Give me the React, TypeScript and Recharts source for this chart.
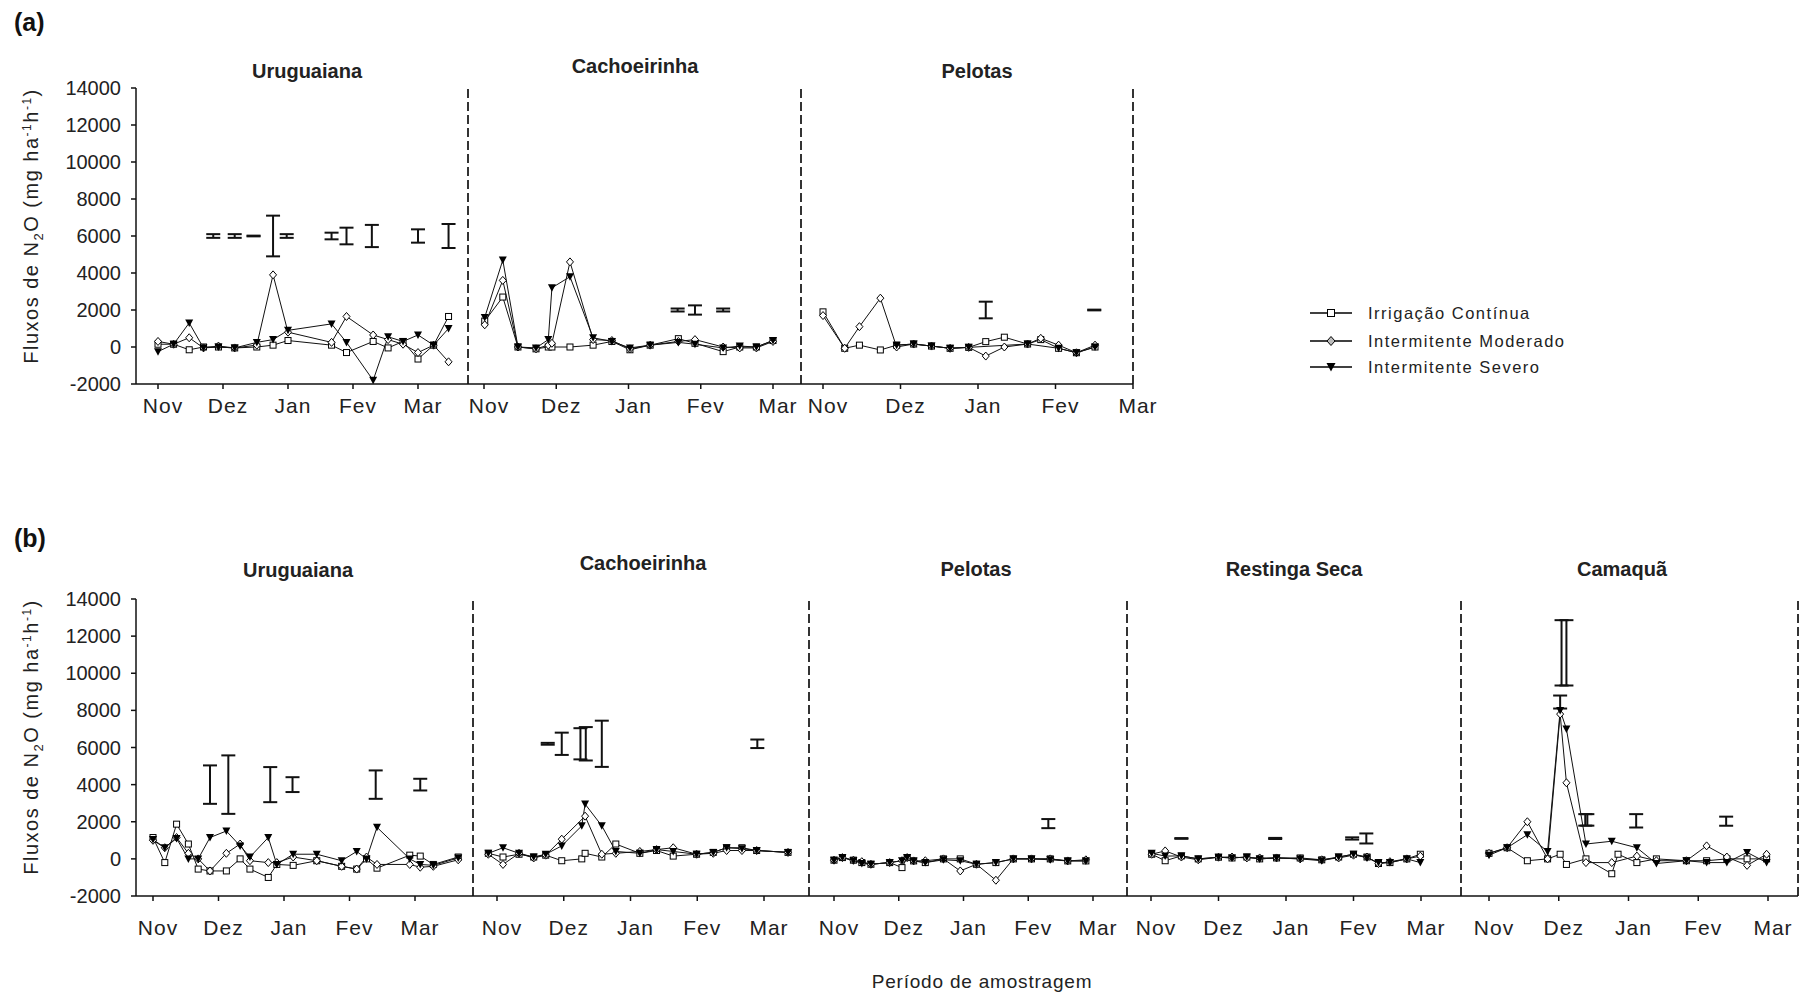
import React from "react";
import { ComposedChart, Line, Scatter, ErrorBar, XAxis, YAxis, ReferenceLine } from "recharts";

const FONT = '"Liberation Sans", Arial, sans-serif';

const monthLabels = ["Nov", "Dez", "Jan", "Fev", "Mar"];
const yTicks = [-2000, 0, 2000, 4000, 6000, 8000, 10000, 12000, 14000];
const seriesNames = ["Irrigação  Contínua", "Intermitente Moderado", "Intermitente Severo"];

// x values are in months from November (0 = Nov, 1 = Dez, ... 4 = Mar)

// (a) Uruguaiana
const aUruX = [0, 0.24, 0.48, 0.7, 0.93, 1.18, 1.52, 1.77, 2.0, 2.67, 2.9, 3.31, 3.54, 3.77, 4.0, 4.24, 4.47];
const aUruIC = [150, 150, -150, 0, 0, -50, 0, 100, 350, 100, -300, 300, -50, 300, -650, 100, 1650];
const aUruMod = [300, 150, 500, -50, 50, -50, 100, 3900, 800, 250, 1650, 650, 400, 150, -300, 100, -800];
const aUruSev = [-250, 150, 1300, -50, 0, -50, 250, 400, 900, 1250, 250, -1800, 550, 300, 650, 100, 1000];
const aUruBarX = [0.85, 1.18, 1.47, 1.77, 1.98, 2.67, 2.9, 3.29, 4.0, 4.47];
const aUruBarY = [6000, 6000, 6000, 6000, 6000, 6000, 6000, 6000, 6000, 6000];
const aUruBarErr = [100, 100, 20, 1100, 100, 180, 450, 600, 360, 650];

// (a) Cachoeirinha
const aCacX = [0.01, 0.26, 0.47, 0.72, 0.89, 0.94, 1.19, 1.51, 1.77, 2.02, 2.3, 2.69, 2.92, 3.31, 3.54, 3.77, 4.0];
const aCacIC = [1400, 2700, 0, -100, 0, 0, 0, 100, 300, -150, 100, 450, 200, -250, 0, 0, 350];
const aCacMod = [1200, 3600, 0, -100, 100, 200, 4600, 400, 350, -100, 100, 300, 400, 0, -50, -50, 300];
const aCacSev = [1600, 4700, 0, -50, 400, 3200, 3800, 500, 300, -50, 100, 250, 150, -50, 50, 0, 350];
const aCacBarX = [2.68, 2.92, 3.31];
const aCacBarY = [2000, 2000, 2000];
const aCacBarErr = [80, 250, 80];

// (a) Pelotas
const aPelX = [0, 0.28, 0.47, 0.74, 0.95, 1.17, 1.4, 1.64, 1.88, 2.1, 2.34, 2.64, 2.81, 3.04, 3.27, 3.51];
const aPelIC = [1900, -70, 100, -160, 100, 160, 50, -70, -20, 290, 530, 160, 400, -70, -310, 0];
const aPelMod = [1700, -70, 1100, 2640, 0, 160, 50, -70, -20, -490, 0, 160, 470, 100, -310, 100];
const aPelSev = [null, null, null, null, 100, 160, 50, -70, -20, null, null, 160, null, -70, -310, 0];
const aPelBarX = [2.1, 3.5];
const aPelBarY = [2000, 2000];
const aPelBarErr = [450, 20];

// (b) Uruguaiana
const bUruX = [0, 0.18, 0.36, 0.54, 0.69, 0.87, 1.12, 1.33, 1.48, 1.76, 1.89, 2.14, 2.5, 2.88, 3.11, 3.26, 3.42, 3.92, 4.08, 4.28, 4.66];
const bUruIC = [1150, -200, 1870, 800, -550, -650, -650, 0, -550, -1000, -300, -350, -100, -400, -550, 0, -500, 200, 150, -300, 100];
const bUruMod = [1000, 600, 1150, 300, 0, -650, 300, 800, -100, -200, -200, 100, -100, -400, -550, 100, -300, -300, -450, -400, -50];
const bUruSev = [1050, 600, 1100, 0, 0, 1150, 1500, 700, 100, 1150, -300, 250, 250, -100, 400, 0, 1700, 0, -300, -350, 50];
const bUruBarX = [0.87, 1.15, 1.79, 2.13, 3.4, 4.08];
const bUruBarY = [4000, 4000, 4000, 4000, 4000, 4000];
const bUruBarErr = [1035, 1575, 945, 400, 765, 315];

// (b) Cachoeirinha
const bCacX = [-0.13, 0.09, 0.33, 0.55, 0.73, 0.97, 1.27, 1.32, 1.57, 1.78, 2.14, 2.39, 2.64, 2.99, 3.24, 3.44, 3.67, 3.89, 4.36];
const bCacIC = [300, 100, 250, 100, 200, -100, 0, 300, 100, 800, 300, 450, 150, 250, 350, 600, 600, 450, 350];
const bCacMod = [250, -300, 300, 50, 200, 1060, null, 2300, 250, 300, 400, 500, 600, 250, 300, 450, 450, 450, 350];
const bCacSev = [300, 600, 300, 100, 250, 700, 1780, 2950, 1780, 400, 300, 500, 400, 250, 350, 600, 550, 450, 350];
const bCacBarX = [0.76, 0.97, 1.25, 1.33, 1.57, 3.9];
const bCacBarY = [6200, 6200, 6200, 6200, 6200, 6200];
const bCacBarErr = [50, 600, 840, 900, 1245, 230];

// (b) Pelotas
const bPelX = [0, 0.13, 0.3, 0.43, 0.57, 0.86, 1.05, 1.13, 1.23, 1.41, 1.69, 1.95, 2.2, 2.5, 2.77, 3.05, 3.34, 3.61, 3.89];
const bPelIC = [-70, 70, -70, -200, -290, -200, -470, 70, -110, -200, 0, 0, -290, -200, 0, 0, 0, -110, -110];
const bPelMod = [-70, 70, -70, -150, -290, -200, -100, 70, -110, -100, 0, -650, -290, -1150, 0, 0, 0, -110, -50];
const bPelSev = [-70, 70, -100, -250, -290, -200, -100, 70, -110, -200, -50, -100, -290, -200, 0, 0, -50, -110, -110];
const bPelBarX = [3.31];
const bPelBarY = [1900];
const bPelBarErr = [245];

// (b) Restinga Seca
const bResX = [0.01, 0.21, 0.45, 0.7, 1.0, 1.2, 1.42, 1.61, 1.86, 2.21, 2.53, 2.78, 3.0, 3.2, 3.37, 3.54, 3.79, 3.99];
const bResIC = [250, -100, 160, 0, 90, 50, 100, 0, 50, 50, -50, 100, 250, 100, -250, -200, 0, 250];
const bResMod = [250, 430, 100, -50, 90, 100, 50, 50, 50, 0, -50, 50, 200, 100, -250, -150, 0, 150];
const bResSev = [300, 150, 160, 0, 90, 50, 100, 0, 50, 0, -100, 100, 250, 50, -200, -200, 0, -200];
const bResBarX = [0.45, 1.84, 2.98, 3.19];
const bResBarY = [1100, 1100, 1100, 1100];
const bResBarErr = [20, 30, 60, 270];

// (b) Camaquã
const bCamX = [0, 0.26, 0.55, 0.84, 1.02, 1.11, 1.39, 1.76, 1.85, 2.12, 2.4, 2.83, 3.12, 3.41, 3.7, 3.98];
const bCamIC = [300, 600, -100, 0, 250, -300, 0, -800, 250, -200, 0, -100, -100, 0, 0, 0];
const bCamMod = [300, 600, 2000, 0, 7800, 4100, -200, -200, null, 150, -100, -100, 700, 100, -350, 250];
const bCamSev = [200, 600, 1300, 400, 8000, 7000, 800, 950, null, 600, -250, -100, -200, -200, 350, -200];
const bCamBarX = [1.02, 1.04, 1.11, 1.38, 1.41, 2.11, 3.4];
const bCamBarY = [8450, 11100, 11100, 2100, 2100, 2050, 2030];
const bCamBarErr = [350, 1760, 1760, 310, 310, 360, 245];

type Vals = (number | null)[];
interface PanelDef {
  title: string;
  x: number[];
  ic: Vals;
  mod: Vals;
  sev: Vals;
  barX: number[];
  barY: number[];
  barErr: number[];
  row: number;
  left: number;
  right: number;
  nov: number;
  mar: number;
  titleX: number;
  titleY: number;
}

// pixel layout of the two rows
const rows = [
  { top: 88, bottom: 384, tickGap: 9 },
  { top: 599, bottom: 896, tickGap: 19 },
];

const panels: PanelDef[] = [
  { title: "Uruguaiana", x: aUruX, ic: aUruIC, mod: aUruMod, sev: aUruSev, barX: aUruBarX, barY: aUruBarY, barErr: aUruBarErr, row: 0, left: 136, right: 468, nov: 158, mar: 418, titleX: 307, titleY: 71 },
  { title: "Cachoeirinha", x: aCacX, ic: aCacIC, mod: aCacMod, sev: aCacSev, barX: aCacBarX, barY: aCacBarY, barErr: aCacBarErr, row: 0, left: 468, right: 801, nov: 484, mar: 773, titleX: 635, titleY: 66 },
  { title: "Pelotas", x: aPelX, ic: aPelIC, mod: aPelMod, sev: aPelSev, barX: aPelBarX, barY: aPelBarY, barErr: aPelBarErr, row: 0, left: 801, right: 1133, nov: 823, mar: 1133, titleX: 977, titleY: 71 },
  { title: "Uruguaiana", x: bUruX, ic: bUruIC, mod: bUruMod, sev: bUruSev, barX: bUruBarX, barY: bUruBarY, barErr: bUruBarErr, row: 1, left: 136, right: 473, nov: 153, mar: 415, titleX: 298, titleY: 570 },
  { title: "Cachoeirinha", x: bCacX, ic: bCacIC, mod: bCacMod, sev: bCacSev, barX: bCacBarX, barY: bCacBarY, barErr: bCacBarErr, row: 1, left: 473, right: 809, nov: 497, mar: 764, titleX: 643, titleY: 563 },
  { title: "Pelotas", x: bPelX, ic: bPelIC, mod: bPelMod, sev: bPelSev, barX: bPelBarX, barY: bPelBarY, barErr: bPelBarErr, row: 1, left: 809, right: 1127, nov: 834, mar: 1093, titleX: 976, titleY: 569 },
  { title: "Restinga Seca", x: bResX, ic: bResIC, mod: bResMod, sev: bResSev, barX: bResBarX, barY: bResBarY, barErr: bResBarErr, row: 1, left: 1127, right: 1461, nov: 1151, mar: 1421, titleX: 1294, titleY: 569 },
  { title: "Camaquã", x: bCamX, ic: bCamIC, mod: bCamMod, sev: bCamSev, barX: bCamBarX, barY: bCamBarY, barErr: bCamBarErr, row: 1, left: 1461, right: 1798, nov: 1489, mar: 1768, titleX: 1622, titleY: 569 },
];

const squareDot = (props: any) => {
  const { cx, cy, index } = props;
  if (cx == null || cy == null) return <g key={`sq${index}`} />;
  return <rect key={`sq${index}`} x={cx - 3} y={cy - 3} width={6} height={6} fill="#fff" stroke="#000" strokeWidth={1} />;
};

const diamondDot = (props: any) => {
  const { cx, cy, index } = props;
  if (cx == null || cy == null) return <g key={`dm${index}`} />;
  return (
    <polygon
      key={`dm${index}`}
      points={`${cx},${cy - 4} ${cx + 3.5},${cy} ${cx},${cy + 4} ${cx - 3.5},${cy}`}
      fill="#fff"
      stroke="#000"
      strokeWidth={1}
    />
  );
};

const triDot = (props: any) => {
  const { cx, cy, index } = props;
  if (cx == null || cy == null) return <g key={`tr${index}`} />;
  return <polygon key={`tr${index}`} points={`${cx - 4},${cy - 3.5} ${cx + 4},${cy - 3.5} ${cx},${cy + 4}`} fill="#000" />;
};

const XTick = (props: any) => {
  const { x, y, payload } = props;
  return (
    <text x={x + 5} y={y} dy={15} textAnchor="middle" fontSize={21} fill="#222" fontFamily={FONT} letterSpacing={1}>
      {monthLabels[payload.value]}
    </text>
  );
};

function Panel({ p }: { p: PanelDef }) {
  const r = rows[p.row];
  const first = p.left === 136;
  const yw = first ? 80 : 0;
  const mt = 12;
  const xh = 50;
  const mr = 30;
  const unit = (p.mar - p.nov) / 4;
  const lo = (p.left - p.nov) / unit;
  const hi = (p.right - p.nov) / unit;
  const w = p.right - p.left + yw + mr;
  const h = mt + (r.bottom - r.top) + xh;
  const pts = (vals: Vals) =>
    p.x.map((x, i) => ({ x, y: vals[i] })).filter((d) => d.y !== null);
  const bars = p.barX.map((x, i) => ({ x, y: p.barY[i], e: p.barErr[i] }));

  return (
    <div style={{ position: "absolute", left: p.left - yw, top: r.top - mt }}>
      <ComposedChart width={w} height={h} margin={{ top: mt, right: mr, bottom: 0, left: 0 }}>
        <XAxis
          type="number"
          dataKey="x"
          domain={[lo, hi]}
          ticks={[0, 1, 2, 3, 4]}
          allowDataOverflow
          height={xh}
          stroke="#111"
          strokeWidth={1.5}
          tickSize={5}
          tickMargin={r.tickGap}
          tick={<XTick />}
        />
        <YAxis
          type="number"
          domain={[-2000, 14000]}
          ticks={yTicks}
          allowDataOverflow
          hide={!first}
          width={yw}
          stroke="#111"
          strokeWidth={1.5}
          tickSize={5}
          tickMargin={10}
          tick={{ fill: "#222", fontSize: 20, fontFamily: FONT }}
        />
        <ReferenceLine x={hi} stroke="#333" strokeWidth={2} strokeDasharray="9 4" />
        <Line data={pts(p.ic)} dataKey="y" type="linear" stroke="#111" strokeWidth={1} dot={squareDot} isAnimationActive={false} />
        <Line data={pts(p.mod)} dataKey="y" type="linear" stroke="#111" strokeWidth={1} dot={diamondDot} isAnimationActive={false} />
        <Line data={pts(p.sev)} dataKey="y" type="linear" stroke="#111" strokeWidth={1} dot={triDot} isAnimationActive={false} />
        <Scatter data={bars} dataKey="y" shape={() => <g />} isAnimationActive={false}>
          <ErrorBar dataKey="e" direction="y" width={7} stroke="#111" strokeWidth={2} />
        </Scatter>
      </ComposedChart>
    </div>
  );
}

function Legend() {
  const ys = [313, 341, 367];
  const marks = [
    <rect x={-3.5} y={-3.5} width={7} height={7} fill="#fff" stroke="#000" strokeWidth={1} />,
    <polygon points="0,-4.5 4,0 0,4.5 -4,0" fill="#bbb" stroke="#000" strokeWidth={1} />,
    <polygon points="-4.5,-4 4.5,-4 0,4.5" fill="#000" />,
  ];
  return (
    <svg style={{ position: "absolute", left: 0, top: 0 }} width={1805} height={997}>
      {seriesNames.map((name, i) => (
        <g key={name}>
          <line x1={1310} x2={1352} y1={ys[i]} y2={ys[i]} stroke="#000" strokeWidth={1.5} />
          <g transform={`translate(1331,${ys[i]})`}>{marks[i]}</g>
          <text x={1368} y={ys[i]} dy={5.5} fontSize={16.5} letterSpacing={1.5} fill="#222" fontFamily={FONT}>
            {name}
          </text>
        </g>
      ))}
    </svg>
  );
}

function YLabel({ cy }: { cy: number }) {
  return (
    <div
      style={{
        position: "absolute",
        left: 33,
        top: cy,
        transform: "translate(-50%, -50%) rotate(-90deg)",
        whiteSpace: "nowrap",
        fontSize: 20,
        letterSpacing: 1.5,
        color: "#222",
        fontFamily: FONT,
        lineHeight: "22px",
      }}
    >
      Fluxos de N<sub style={{ fontSize: 13 }}>2</sub>O (mg ha<sup style={{ fontSize: 12 }}>-1</sup>h<sup style={{ fontSize: 12 }}>-1</sup>)
    </div>
  );
}

export default function App() {
  return (
    <div style={{ position: "absolute", left: 0, top: 0, width: 1805, height: 997, background: "#fff", fontFamily: FONT }}>
      {panels.map((p, i) => (
        <Panel key={i} p={p} />
      ))}
      {panels.map((p, i) => (
        <div
          key={`t${i}`}
          style={{
            position: "absolute",
            left: p.titleX,
            top: p.titleY,
            transform: "translate(-50%, -50%)",
            fontSize: 20,
            fontWeight: "bold",
            color: "#222",
            whiteSpace: "nowrap",
          }}
        >
          {p.title}
        </div>
      ))}
      <div style={{ position: "absolute", left: 14, top: 8, fontSize: 25, fontWeight: "bold", color: "#111" }}>(a)</div>
      <div style={{ position: "absolute", left: 14, top: 524, fontSize: 25, fontWeight: "bold", color: "#111" }}>(b)</div>
      <YLabel cy={226} />
      <YLabel cy={737} />
      <Legend />
      <div
        style={{
          position: "absolute",
          left: 982,
          top: 982,
          transform: "translate(-50%, -50%)",
          fontSize: 19,
          letterSpacing: 0.8,
          color: "#222",
          whiteSpace: "nowrap",
        }}
      >
        Período de amostragem
      </div>
    </div>
  );
}
